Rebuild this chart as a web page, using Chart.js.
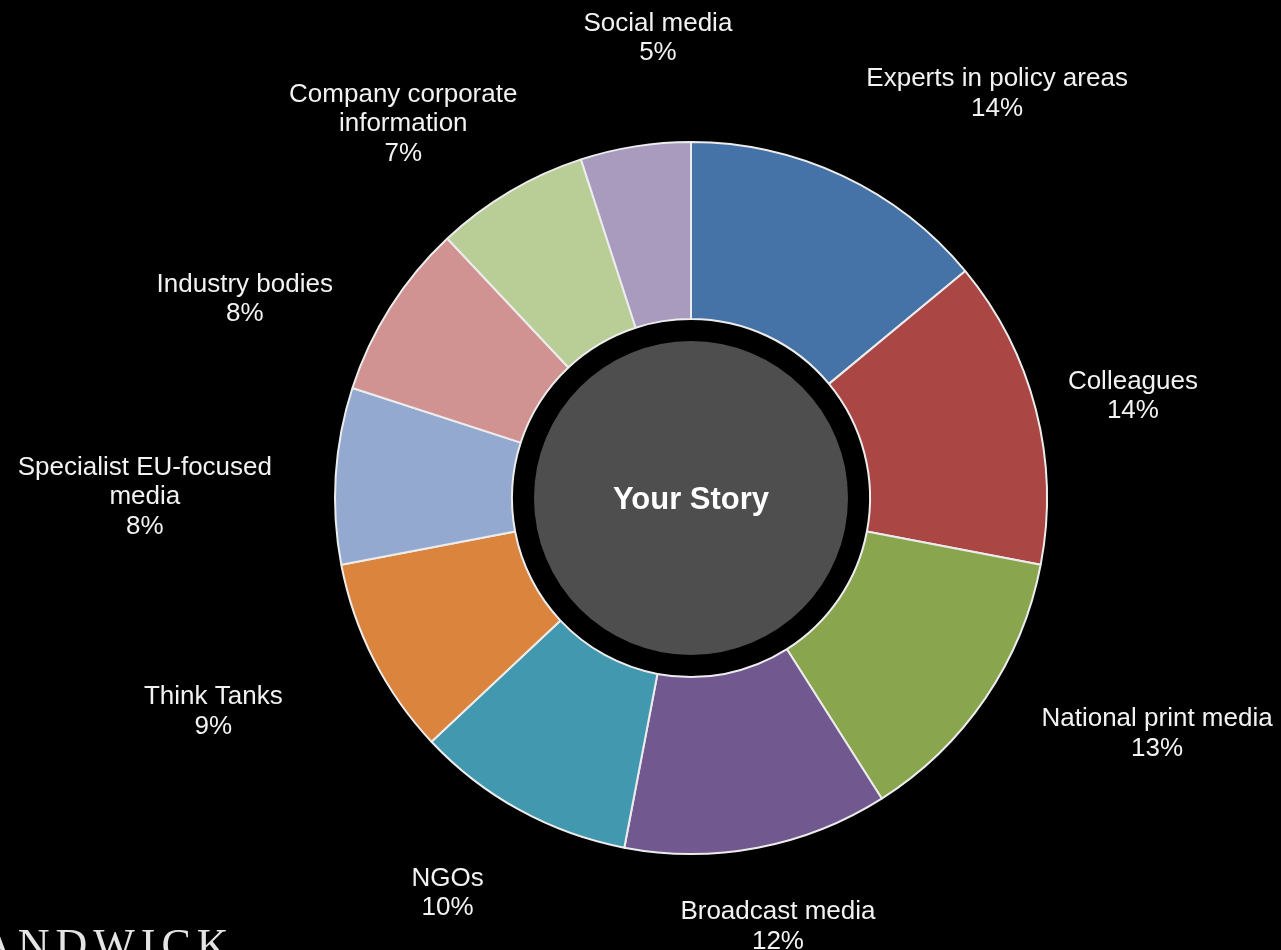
<!DOCTYPE html>
<html>
<head>
<meta charset="utf-8">
<script src="https://cdn.jsdelivr.net/npm/chart.js@4/dist/chart.umd.min.js"></script>
<style>
  html, body { margin: 0; padding: 0; background: #000; overflow: hidden; }
  #wrap { position: relative; width: 1281px; height: 950px; }
  #logo {
    position: absolute; left: -20px; top: 923px;
    font: 44px "Liberation Serif", "DejaVu Serif", serif;
    line-height: 1; letter-spacing: 6px; color: #e4e4e4;
    white-space: nowrap;
  }
</style>
</head>
<body>
<div id="wrap">
  <canvas id="myChart" width="1281" height="950"></canvas>
  <div id="logo">ANDWICK</div>
</div>
<script>
// sources of information, share of mentions (%)
const sources = [
  ['Experts in policy areas'],
  ['Colleagues'],
  ['National print media'],
  ['Broadcast media'],
  ['NGOs'],
  ['Think Tanks'],
  ['Specialist EU-focused', 'media'],
  ['Industry bodies'],
  ['Company corporate', 'information'],
  ['Social media']
]
const shares = [14, 14, 13, 12, 10, 9, 8, 8, 7, 5]
const sliceColors = [
  '#4572A7', '#AA4643', '#89A54E', '#71588F', '#4198AF',
  '#DB843D', '#93A9CF', '#D19392', '#B9CD96', '#A99BBD'
]
const centerText = 'Your Story'

// label nudges away from the plain radial anchor
const labelNudges = [
  [129, -28], [39, 2], [122, 2], [9, 20], [-43, 31],
  [-107, 25], [-131, 25], [-95, 24], [-76, -16], [32, -49]
]

const centerDisc = {
  id: 'centerDisc',
  afterDatasetsDraw(chart) {
    const arc = chart.getDatasetMeta(0).data[0]
    const { x, y } = arc.getProps(['x', 'y'], true)
    const ctx = chart.ctx
    ctx.save()
    ctx.beginPath()
    ctx.arc(x, y, 157, 0, Math.PI * 2)
    ctx.fillStyle = '#4e4e4e'
    ctx.fill()
    ctx.fillStyle = '#ffffff'
    ctx.font = 'bold 31px "Liberation Sans", Arial, sans-serif'
    ctx.textAlign = 'center'
    ctx.textBaseline = 'middle'
    ctx.fillText(centerText, x, y + 2)
    ctx.restore()
  }
}

const outsideLabels = {
  id: 'outsideLabels',
  afterDraw(chart) {
    const ctx = chart.ctx
    const lineH = 29.5
    ctx.save()
    ctx.fillStyle = '#f2f2f2'
    ctx.font = '26px "Liberation Sans", Arial, sans-serif'
    ctx.textAlign = 'center'
    ctx.textBaseline = 'middle'
    chart.getDatasetMeta(0).data.forEach((arc, i) => {
      const p = arc.getProps(['x', 'y', 'startAngle', 'endAngle', 'outerRadius'], true)
      const mid = (p.startAngle + p.endAngle) / 2
      const r = p.outerRadius + 60
      const cx = p.x + Math.cos(mid) * r + labelNudges[i][0]
      const cy = p.y + Math.sin(mid) * r + labelNudges[i][1]
      const lines = sources[i].concat([shares[i] + '%'])
      lines.forEach((t, k) => {
        ctx.fillText(t, cx, cy + (k - (lines.length - 1) / 2) * lineH)
      })
    })
    ctx.restore()
  }
}

const myChartRef = document.getElementById('myChart').getContext('2d')
new Chart(myChartRef, {
  type: 'doughnut',
  data: {
    labels: sources.map(s => s.join(' ')),
    datasets: [{
      data: shares,
      backgroundColor: sliceColors,
      borderColor: '#ececec',
      borderWidth: 2
    }]
  },
  options: {
    responsive: false,
    animation: false,
    radius: 356,
    cutout: '50.3%',
    layout: { padding: { left: 101, top: 46, right: 0, bottom: 0 } },
    plugins: {
      legend: { display: false },
      tooltip: { enabled: false }
    }
  },
  plugins: [centerDisc, outsideLabels]
})
</script>
</body>
</html>
